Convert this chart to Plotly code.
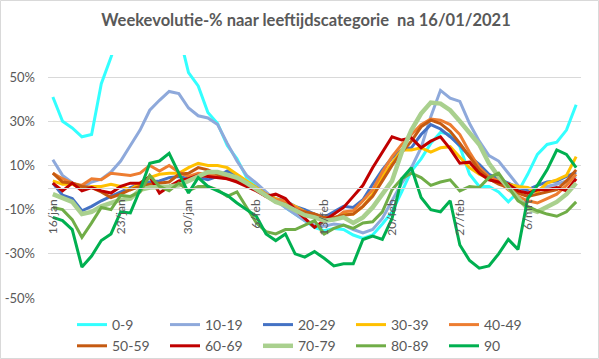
import plotly.graph_objects as go
import pandas as pd

dates = pd.date_range("2021-01-16", "2021-03-11", freq="D")

tick_dates = ["2021-01-16", "2021-01-23", "2021-01-30", "2021-02-06",
              "2021-02-13", "2021-02-20", "2021-02-27", "2021-03-06"]
tick_labels = ["16/jan", "23/jan", "30/jan", "6/feb", "13/feb", "20/feb", "27/feb", "6/mrt"]

y_ticks = [-50, -30, -10, 10, 30, 50]
y_tick_labels = ["-50%", "-30%", "-10%", "10%", "30%", "50%"]

categories = ["0-9", "10-19", "20-29", "30-39", "40-49",
              "50-59", "60-69", "70-79", "80-89", "90"]

s_0_9 = [41, 30, 27, 23, 24, 47, 59, 72, 78, 82, 84, 82, 78, 70, 52, 46, 34, 29, 19, 13,
         4.5, 1, -2.5, -5.5, -9, -12, -15, -18, -19.5, -18.5, -19, -21.5, -23, -21.5, -16.5,
         -11, -2, 7.5, 13, 20, 25, 24, 18.5, 6, 0.5, 0.5, -2, -6.5, -2, 6, 15, 19.5, 20.5, 26, 37.5]
s_10_19 = [12.6, 5.5, 2.2, 0, 2.5, 3.8, 7, 12, 19, 26, 35, 39.5, 43.5, 42.5, 36, 32.5, 31.5, 28.5, 20, 12,
           5.5, 2, -2, -6, -9, -12, -15, -17, -17.5, -16.5, -17, -19, -20.5, -19, -14,
           -6, 2, 9, 18, 32, 44, 40.5, 39, 29, 21, 14.5, 12, 6.5, 1, -2.5, -1.5, 0.5, 1.5, 3, 5]
s_20_29 = [2, -3.5, -5, -10.5, -8.5, -6, -4, -2, 0, 1.5, 2.5, 3, 4.5, 5, 4, 4.5, 3.5, 5, 7.5, 5.5,
           2.5, 0, -3, -5, -6, -8.5, -10, -12, -13.5, -11, -8.5, -9, -5.5, 1.5, 8,
           13.5, 17, 18, 24, 28.5, 26.5, 23, 19, 14, 10.5, 6, 4, 2, 0, -1, 1, 2.5, 3, 5, 7]
s_30_39 = [3, 1.5, 1.5, -0.5, 0.5, 0.5, 1.5, 0.5, -1, 2, 4.5, 6, 6.5, 6.5, 9, 11, 10, 10, 9, 6,
           3, 0, -3, -5, -6.5, -8.5, -11, -13, -15, -14, -12, -12, -8.5, -3, 5,
           11, 17, 17, 18, 16, 18, 18.5, 13.5, 9, 6, 4, 2.5, 1.5, 0.5, 0, -2, 2, 3.5, 5.5, 14]
s_40_49 = [6.5, 4, 2, 1, 4, 3.5, 6.5, 6, 5.5, 6.5, 10, 7.5, 10, 7, 5, 6.5, 6, 5, 4, 3,
           1, -1, -3, -5.5, -6, -9, -11, -12, -14.5, -14.5, -11, -10.5, -6, -1, 7,
           14, 19.5, 24, 28.5, 31, 30.5, 28.5, 24, 16, 9, 5, 3, -1, -4, -6, -7, -5, -3, 1, 6]
s_50_59 = [6.5, 2.5, 2, 0.5, 0, -2, -4.5, -3, -1, 0.5, 1.5, 2, 2.5, 6, 6.5, 9, 8, 6, 4.5, 3,
           1, -1, -4, -6.5, -7.5, -10, -11, -12, -13.5, -13.5, -12.5, -12, -8.5, -4, 3,
           10, 16, 21, 27.5, 30.5, 29, 25.5, 20, 14, 8, 4, 1.5, 0, -2.5, -4, -3, -2, -1, 3, 8]
s_60_69 = [2, -1.5, 2, -1.5, 0, -1.5, -2.5, 0.5, 2, 2, 5, -2.5, 0.5, 3, 4, 5.5, 5, 4.5, 4, 2.5,
           0.5, -1.5, -4, -3, -5, -10, -14, -18, -15, -12, -9, -4, 1, 9, 16,
           23, 21.5, 22.5, 18, 21, 23, 17.5, 11, 11.5, 6.5, 3.5, 2.5, 1.5, -1.5, -2.5, -1, -1, 0, -1.5, 4]
s_70_79 = [-3, -4.5, -6.5, -12, -11, -8.5, -7, -5.5, -5, -1, 0, 0, 0.5, 1, 3, 5, 7, 7, 6, 4.5,
           2, -1, -4, -6.5, -8, -10, -12.5, -13.5, -15, -14.5, -13.5, -16, -13.5, -9, -3,
           3, 16, 26, 33.5, 38.5, 38, 35, 30, 25, 19.5, 11, 5, 0, -5, -9.5, -11, -8.5, -6.5, -3, 2]
s_80_89 = [-9, -10, -14.5, -22.5, -16, -9, -10, -3.5, -4, -2, 5.5, 0.5, -1.5, 2, -1.5, 0.5, 0.5, -1, -4, -2,
           -9, -16, -20, -21, -19, -19, -17, -15, -21, -18.5, -17, -18.5, -16, -15.5, -11,
           -1, 4, 6.5, 4.5, 1, 2.5, 3.5, -1.5, 0.5, 0, 4.5, 6.5, 0, -6, -8.5, -10.5, -12, -13, -11, -6.5]
s_90 = [-13.5, -15, -19, -36, -31, -24, -21, -11, -11.5, -1, 11, 12, 15.5, 6.5, -2.5, 4.5, 0.5, -1.5, -3.5, -7,
        -10, -13, -21, -24, -21, -30, -31.5, -29, -32, -35.5, -34.5, -34.5, -23.5, -22, -23.5,
        -14, 4, 9, -4.5, -10, -11, -6, -26, -33, -36.5, -35.5, -30, -23.5, -28, -5, 1, 8, 17, 15, 9]

series = [s_0_9, s_10_19, s_20_29, s_30_39, s_40_49,
          s_50_59, s_60_69, s_70_79, s_80_89, s_90]
colors = ["#33FFFF", "#8EA9DB", "#4472C4", "#FFC000", "#ED7D31",
          "#C55A11", "#C00000", "#A9D08E", "#70AD47", "#00B050"]
widths = [3, 3, 3, 3, 3, 3, 3, 4.5, 3, 3]

FONT = "Lato"
GREY = "#595959"

fig = go.Figure()
for name, vals, col, w in zip(categories, series, colors, widths):
    fig.add_trace(go.Scatter(x=dates, y=vals, mode="lines", name=name,
                             line=dict(color=col, width=w), cliponaxis=True))

W, H = 599, 359
L, R, T, B = 48, 18, 55, 61
pw, ph = W - L - R, H - T - B

fig.update_layout(
    width=W, height=H,
    margin=dict(l=L, r=R, t=T, b=B, pad=0, autoexpand=False),
    paper_bgcolor="white", plot_bgcolor="white",
    font=dict(family=FONT, size=12, color=GREY),
    title=dict(text="<b>Weekevolutie-% naar leeftijdscategorie  na 16/01/2021</b>",
               x=306 / W, xanchor="center", xref="container",
               y=1 - 20 / H, yanchor="middle", yref="container",
               font=dict(family=FONT, size=16.5, color=GREY)),
    showlegend=True,
    legend=dict(orientation="h", x=(72 - L) / pw, xanchor="left",
                y=-(309 - (T + ph)) / ph, yanchor="top",
                entrywidth=48, entrywidthmode="pixels",
                font=dict(family=FONT, size=14, color=GREY),
                bgcolor="rgba(0,0,0,0)", traceorder="normal"),
    xaxis=dict(type="date", range=["2021-01-15 12:00", "2021-03-11 12:00"],
               tickvals=tick_dates, ticktext=tick_labels, tickangle=-90,
               showgrid=False, zeroline=False, showline=True, linecolor="#D9D9D9", linewidth=1,
               anchor="free", position=50 / 110, ticks="", ticklabelstandoff=6,
               tickfont=dict(family=FONT, size=12, color=GREY)),
    yaxis=dict(range=[-50, 60], tickvals=y_ticks, ticktext=y_tick_labels,
               showgrid=True, gridcolor="#D9D9D9", gridwidth=1, zeroline=False,
               showline=False, ticks="", ticklabelstandoff=12,
               tickfont=dict(family=FONT, size=13, color=GREY)),
    shapes=[dict(type="rect", xref="paper", yref="paper",
                 x0=(-L + 0.5) / pw, x1=1 + (R - 0.5) / pw,
                 y0=-(B - 0.5) / ph, y1=1 + (T - 0.5) / ph,
                 line=dict(color="#D9D9D9", width=1), layer="below")],
)

fig.write_html("out.html", config={"displayModeBar": False},
               post_script="document.body.style.margin='0px';")
